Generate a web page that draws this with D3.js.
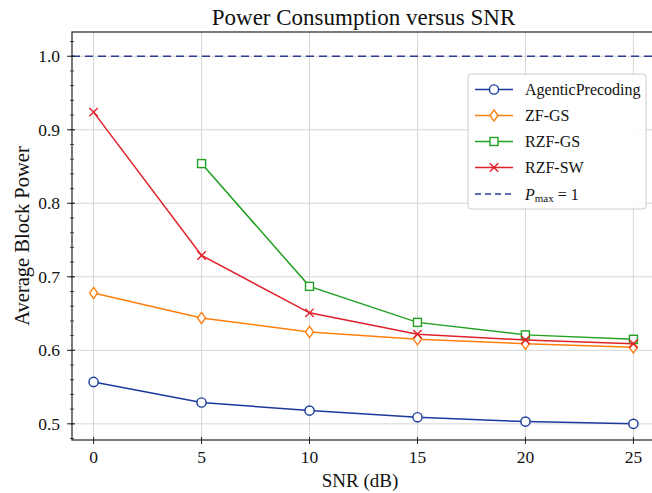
<!DOCTYPE html>
<meta charset="utf-8">
<script src="https://d3js.org/d3.v7.min.js"></script>
<style>
  body { margin: 0; background: #fff; }
  text { font-family: "Liberation Serif", "DejaVu Serif", serif; fill: #111; }
</style>
<div id="chart"></div>
<script>
// Data
var snr = [0, 5, 10, 15, 20, 25];
var agentic = [0.557, 0.529, 0.518, 0.509, 0.503, 0.500];
var zfGs = [0.678, 0.644, 0.625, 0.615, 0.609, 0.604];
var rzfGs = [null, 0.854, 0.687, 0.638, 0.621, 0.615];
var rzfSw = [0.924, 0.729, 0.651, 0.622, 0.614, 0.609];
var xTicks = [0, 5, 10, 15, 20, 25];
var yTicks = [0.5, 0.6, 0.7, 0.8, 0.9, 1.0];
var pMax = 1.0;

var series = [
  {name: "AgenticPrecoding", values: agentic, color: "#1a3a9c", marker: "circle"},
  {name: "ZF-GS", values: zfGs, color: "#ff7f0e", marker: "diamond"},
  {name: "RZF-GS", values: rzfGs, color: "#22a022", marker: "square"},
  {name: "RZF-SW", values: rzfSw, color: "#e0202a", marker: "cross"}
];

var W = 652, H = 493;
var margin = {top: 32, left: 72, bottom: 53, right: -3};

var svg = d3.select("#chart").append("svg")
    .attr("width", W)
    .attr("height", H);

var x = d3.scaleLinear().domain([-1, 26]).range([margin.left, W - margin.right]);
var y = d3.scaleLinear().domain([0.478, 1.033]).range([H - margin.bottom, margin.top]);

var plot = svg.append("g");

// grid
plot.selectAll(".gx").data(xTicks).enter().append("line")
    .attr("x1", d => x(d)).attr("x2", d => x(d))
    .attr("y1", y.range()[1]).attr("y2", y.range()[0])
    .attr("stroke", "#d6d6d6").attr("stroke-width", 1);
plot.selectAll(".gy").data(yTicks).enter().append("line")
    .attr("x1", x.range()[0]).attr("x2", x.range()[1])
    .attr("y1", d => y(d)).attr("y2", d => y(d))
    .attr("stroke", "#d6d6d6").attr("stroke-width", 1);

// Pmax line
plot.append("line")
    .attr("x1", x.range()[0]).attr("x2", x.range()[1])
    .attr("y1", y(pMax)).attr("y2", y(pMax))
    .attr("stroke", "#2b3f99").attr("stroke-width", 1.6)
    .attr("stroke-dasharray", "8,5");

// lines + markers
function drawMarker(g, type, color) {
  if (type === "circle") {
    g.append("circle").attr("r", 4.6).attr("fill", "#fff")
      .attr("stroke", color).attr("stroke-width", 1.4);
  } else if (type === "diamond") {
    g.append("path").attr("d", "M0,-5.6L4,0L0,5.6L-4,0Z").attr("fill", "#fff")
      .attr("stroke", color).attr("stroke-width", 1.4);
  } else if (type === "square") {
    g.append("rect").attr("x", -4).attr("y", -4).attr("width", 8).attr("height", 8)
      .attr("fill", "#fff").attr("stroke", color).attr("stroke-width", 1.4);
  } else {
    g.append("path").attr("d", "M-4.2,-4.2L4.2,4.2M-4.2,4.2L4.2,-4.2")
      .attr("fill", "none").attr("stroke", color).attr("stroke-width", 1.4);
  }
}

series.forEach(function(s) {
  var pts = snr.map((v, i) => [v, s.values[i]]).filter(p => p[1] != null);
  plot.append("path")
      .datum(pts)
      .attr("fill", "none")
      .attr("stroke", s.color)
      .attr("stroke-width", 1.5)
      .attr("d", d3.line().x(p => x(p[0])).y(p => y(p[1])));
  pts.forEach(function(p) {
    var g = plot.append("g").attr("transform", "translate(" + x(p[0]) + "," + y(p[1]) + ")");
    drawMarker(g, s.marker, s.color);
  });
});

// spines
svg.append("rect")
    .attr("x", x.range()[0]).attr("y", y.range()[1])
    .attr("width", x.range()[1] - x.range()[0])
    .attr("height", y.range()[0] - y.range()[1])
    .attr("fill", "none").attr("stroke", "#222").attr("stroke-width", 1.2);

// y axis ticks
var yMinor = d3.range(0.48, 1.031, 0.02);
svg.selectAll(".ymin").data(yMinor).enter().append("line")
    .attr("x1", x.range()[0] - 2).attr("x2", x.range()[0] + 2)
    .attr("y1", d => y(d)).attr("y2", d => y(d))
    .attr("stroke", "#222").attr("stroke-width", 0.8);
svg.selectAll(".ymaj").data(yTicks).enter().append("line")
    .attr("x1", x.range()[0] - 5).attr("x2", x.range()[0] + 3)
    .attr("y1", d => y(d)).attr("y2", d => y(d))
    .attr("stroke", "#222").attr("stroke-width", 1);
svg.selectAll(".ylab").data(yTicks).enter().append("text")
    .attr("x", x.range()[0] - 12).attr("y", d => y(d))
    .attr("text-anchor", "end").attr("dominant-baseline", "central")
    .style("font-size", "17.5px")
    .text(d => d.toFixed(1));

// x axis ticks
svg.selectAll(".xmaj").data(xTicks).enter().append("line")
    .attr("x1", d => x(d)).attr("x2", d => x(d))
    .attr("y1", y.range()[0] - 3).attr("y2", y.range()[0] + 4)
    .attr("stroke", "#222").attr("stroke-width", 1);
svg.selectAll(".xlab").data(xTicks).enter().append("text")
    .attr("x", d => x(d)).attr("y", y.range()[0] + 23)
    .attr("text-anchor", "middle")
    .style("font-size", "17.5px")
    .text(d => d);

// labels
svg.append("text")
    .attr("x", (x.range()[0] + x.range()[1]) / 2).attr("y", 25)
    .attr("text-anchor", "middle").style("font-size", "23px")
    .text("Power Consumption versus SNR");
svg.append("text")
    .attr("x", 360).attr("y", 487)
    .attr("text-anchor", "middle").style("font-size", "19px")
    .text("SNR (dB)");
svg.append("text")
    .attr("transform", "translate(29," + ((y.range()[0] + y.range()[1]) / 2) + ")rotate(-90)")
    .attr("text-anchor", "middle").style("font-size", "20.5px")
    .text("Average Block Power");

// legend
var lg = svg.append("g").attr("transform", "translate(468,74)");
lg.append("rect")
    .attr("width", 178).attr("height", 135).attr("rx", 3)
    .attr("fill", "#fff").attr("fill-opacity", 0.9)
    .attr("stroke", "#ccc").attr("stroke-width", 1);
series.forEach(function(s, i) {
  var cy = 15.5 + i * 26;
  lg.append("line").attr("x1", 7).attr("x2", 45).attr("y1", cy).attr("y2", cy)
    .attr("stroke", s.color).attr("stroke-width", 1.5);
  drawMarker(lg.append("g").attr("transform", "translate(26," + cy + ")"), s.marker, s.color);
  lg.append("text").attr("x", 57).attr("y", cy).attr("dominant-baseline", "central")
    .style("font-size", "16px").text(s.name);
});
var cy5 = 15.5 + 4 * 26 + 0.5;
lg.append("line").attr("x1", 7).attr("x2", 45).attr("y1", cy5).attr("y2", cy5)
    .attr("stroke", "#2b3f99").attr("stroke-width", 1.6).attr("stroke-dasharray", "6,4");
var pt = lg.append("text").attr("x", 57).attr("y", cy5).attr("dominant-baseline", "central")
    .style("font-size", "16px");
pt.append("tspan").style("font-style", "italic").text("P");
pt.append("tspan").attr("dy", 4).style("font-size", "11px").text("max");
pt.append("tspan").attr("dy", -4).text(" = 1");
</script>
